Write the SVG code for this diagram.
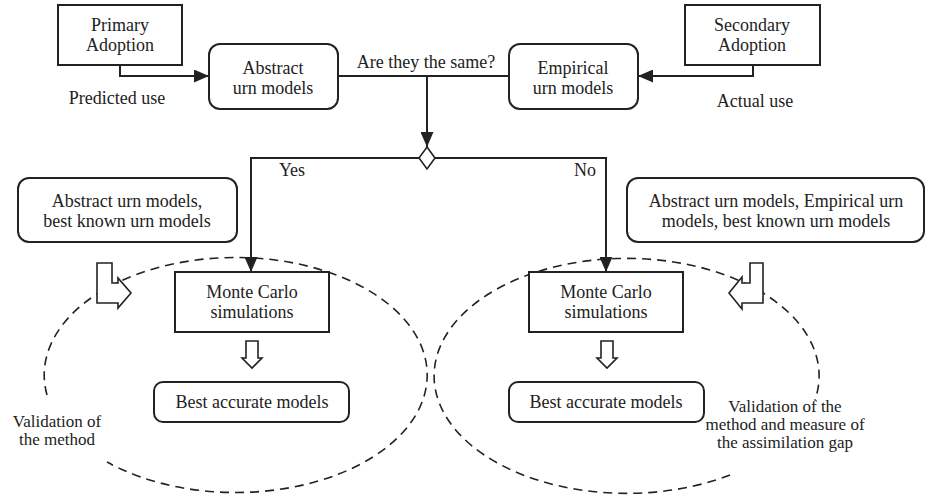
<svg xmlns="http://www.w3.org/2000/svg" width="926" height="495" viewBox="0 0 926 495">
<defs>
<marker id="ah" viewBox="0 0 15 13" refX="15" refY="6.5" markerWidth="15" markerHeight="13" markerUnits="userSpaceOnUse" orient="auto">
<path d="M0,0 L15,6.5 L0,13 Z" fill="#222"/>
</marker>
<style>
text{font-family:'Liberation Serif','DejaVu Serif',serif;font-size:18px;fill:#222;text-anchor:middle}
.sm{font-size:17px}
.box{fill:#fff;stroke:#222;stroke-width:2}
.con{fill:none;stroke:#222;stroke-width:2}
.dash{fill:none;stroke:#222;stroke-width:1.6;stroke-dasharray:9,6}
.hol{fill:#fff;stroke:#222;stroke-width:1.6}
</style>
</defs>
<rect width="926" height="495" fill="#fff"/>
<g font-family="Liberation Serif, serif">
<g id="ellipses">
<path class="dash" d="M47,395 A191.5,117.5 0 1 1 107,462"/>
<path class="dash" d="M730,475 A192.5,117.5 0 1 1 815,400"/>
</g>
<g id="connectors">
<polyline class="con" points="120,65 120,76 209,76" marker-end="url(#ah)"/>
<polyline class="con" points="753,65 753,76 638,76" marker-end="url(#ah)"/>
<line class="con" x1="338" y1="76" x2="509" y2="76"/>
<line class="con" x1="427" y1="76" x2="427" y2="147" marker-end="url(#ah)"/>
<polyline class="con" points="419,158 251,158 251,272" marker-end="url(#ah)"/>
<polyline class="con" points="435,158 606,158 606,272" marker-end="url(#ah)"/>
<path class="hol" d="M427,147 L435,158 L427,169 L419,158 Z"/>
<text x="426" y="68">Are they the same?</text>
<text x="292" y="176">Yes</text>
<text x="585" y="176">No</text>
<text x="117" y="104">Predicted use</text>
<text x="755" y="107">Actual use</text>
</g>
<g id="primary"><rect class="box" x="58" y="5" width="124" height="60"/><text x="120" y="31">Primary</text><text x="120" y="51">Adoption</text></g>
<g id="secondary"><rect class="box" x="685" y="5" width="135" height="60"/><text x="752" y="31">Secondary</text><text x="752" y="51">Adoption</text></g>
<g id="abstract"><rect class="box" x="209" y="44" width="129" height="65" rx="11"/><text x="273" y="74">Abstract</text><text x="273" y="94">urn models</text></g>
<g id="empirical"><rect class="box" x="509" y="44" width="129" height="65" rx="11"/><text x="573" y="74">Empirical</text><text x="573" y="94">urn models</text></g>
<g id="inputLeft"><rect class="box" x="18" y="178" width="219" height="64" rx="11"/><text x="127" y="207">Abstract urn models,</text><text x="127" y="227">best known urn models</text></g>
<g id="inputRight"><rect class="box" x="627" y="178" width="297" height="64" rx="11"/><text x="776" y="207">Abstract urn models, Empirical urn</text><text x="776" y="227">models, best known urn models</text></g>
<g id="mcLeft"><rect class="box" x="175" y="272" width="154" height="60"/><text x="252" y="298">Monte Carlo</text><text x="252" y="318">simulations</text></g>
<g id="mcRight"><rect class="box" x="529" y="272" width="154" height="60"/><text x="606" y="298">Monte Carlo</text><text x="606" y="318">simulations</text></g>
<g id="bestLeft"><rect class="box" x="154" y="382" width="195" height="40" rx="9"/><text x="252" y="408">Best accurate models</text></g>
<g id="bestRight"><rect class="box" x="509" y="382" width="195" height="40" rx="9"/><text x="606" y="408">Best accurate models</text></g>
<g id="blockArrows">
<path class="hol" d="M97,263 L112,263 L112,283 L118,283 L118,278 L131,293 L118,308 L118,303 L97,303 Z"/>
<path class="hol" d="M763,263 L750,263 L750,283 L742,283 L742,277 L729,293 L742,309 L742,303 L763,303 Z"/>
<path class="hol" d="M246,341 L258,341 L258,358 L262,358 L252,368 L242,358 L246,358 Z"/>
<path class="hol" d="M601,341 L613,341 L613,358 L617,358 L607,368 L597,358 L601,358 Z"/>
</g>
<g id="labels">
<text class="sm" x="57" y="427">Validation of</text><text class="sm" x="57" y="445">the method</text>
<text class="sm" x="785" y="412">Validation of the</text><text class="sm" x="785" y="430">method and measure of</text><text class="sm" x="785" y="448">the assimilation gap</text>
</g>
</g>
</svg>
